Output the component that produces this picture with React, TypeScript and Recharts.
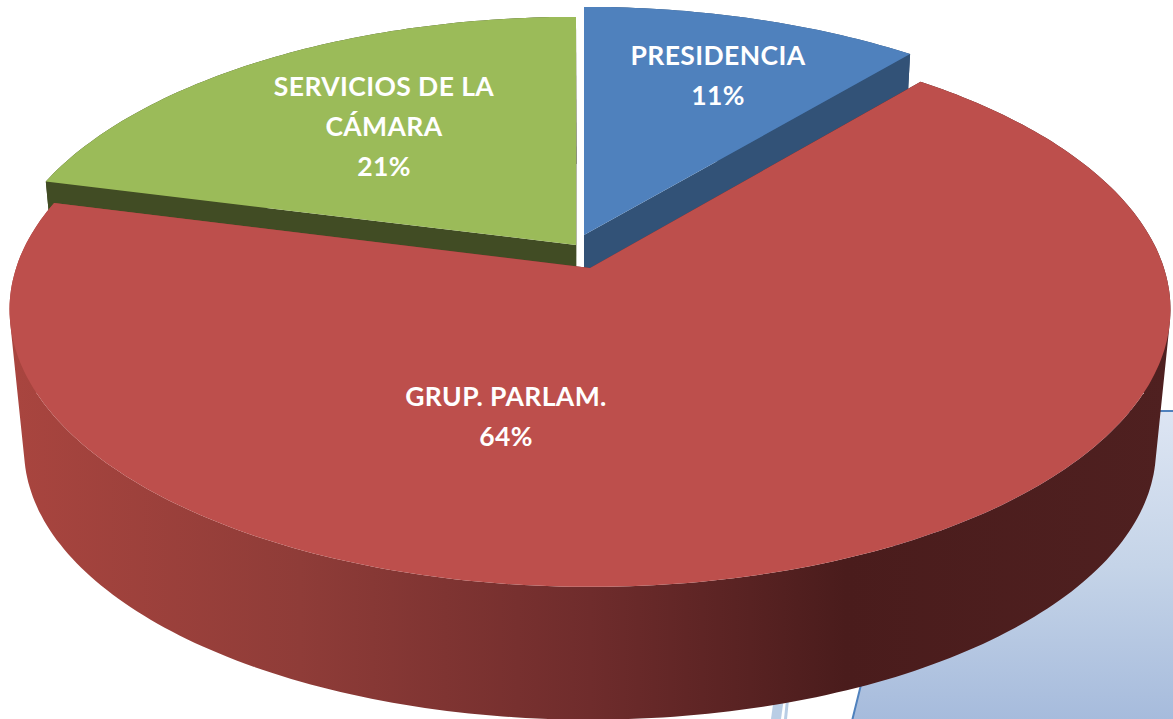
import { Pie, PieChart } from 'recharts';

// draw order runs back to front, so the red slice comes last
const sliceNames = ['SERVICIOS DE LA CÁMARA', 'PRESIDENCIA', 'GRUP. PARLAM.'];
const sliceShares = [21, 11.1, 67.9];
// percentages as printed on the picture (they only add up to 96)
const printedPercents = ['21%', '11%', '64%'];
const labelLines = [['SERVICIOS DE LA', 'CÁMARA'], ['PRESIDENCIA'], ['GRUP. PARLAM.']];

const WIDTH = 1173;
const HEIGHT = 719;
const CX = 589;
const CY = 268;
const RADIUS = 572;

// perspective of the disc, per slice: [tilt, half width, depth]
const discs = [
  [0.166, 570, 266],
  [0.166, 572.4, 266],
  [0.15, 573.9, 271],
];
// the bottom face is the top face scaled towards the vertical vanishing point
const BOTTOM_SCALE = 0.975;
const VANISH_Y = 5900;

const topColors = ['#9bbb59', '#4f81bd', '#bd4f4c'];
const wallColors = ['#414c24', '#325277', 'url(#redWall)'];
const explode = [
  [-13, -23],
  [-5, -33],
  [1, 0],
];
const labelAnchors = [
  [384, 96],
  [718, 65],
  [506, 406],
];

const RAD = Math.PI / 180;

type Pt = [number, number];

function project(angle: number, r: number, idx: number): Pt {
  const [tilt, halfWidth, depth] = discs[idx];
  const u = (r / RADIUS) * Math.cos(angle * RAD);
  const v = (r / RADIUS) * -Math.sin(angle * RAD);
  const d = 1 - tilt * v;
  return [CX + (halfWidth * u) / d + explode[idx][0], CY + (depth * v) / d + explode[idx][1]];
}

function toBottom([x, y]: Pt): Pt {
  return [590 + BOTTOM_SCALE * (x - 590), VANISH_Y + BOTTOM_SCALE * (y - VANISH_Y)];
}

function pathOf(points: Pt[]) {
  return 'M' + points.map((p) => `${p[0].toFixed(1)},${p[1].toFixed(1)}`).join('L') + 'Z';
}

// one quad per rim step, all wound the same way so the overlaps never cancel
function wallPath(rim: Pt[]) {
  let d = '';
  for (let i = 0; i < rim.length - 1; i++) {
    const quad = [rim[i], rim[i + 1], toBottom(rim[i + 1]), toBottom(rim[i])];
    let area = 0;
    quad.forEach((p, j) => {
      const q = quad[(j + 1) % 4];
      area += p[0] * q[1] - q[0] * p[1];
    });
    d += pathOf(area > 0 ? quad : [...quad].reverse());
  }
  return d;
}

function Slice3D(props: any) {
  const { startAngle, endAngle, outerRadius, name } = props;
  const idx = sliceNames.indexOf(name);
  const rim: Pt[] = [];
  const steps = Math.ceil(Math.abs(startAngle - endAngle));
  for (let i = 0; i <= steps; i++) {
    rim.push(project(startAngle + ((endAngle - startAngle) * i) / steps, outerRadius, idx));
  }
  const apex = project(0, 0, idx);
  const first = rim[0];
  const last = rim[rim.length - 1];
  return (
    <g>
      <path d={wallPath(rim)} fill={wallColors[idx]} />
      <path d={pathOf([apex, first, toBottom(first), toBottom(apex)])} fill={wallColors[idx]} />
      <path d={pathOf([apex, last, toBottom(last), toBottom(apex)])} fill={wallColors[idx]} />
      <path d={pathOf([apex, ...rim])} fill={topColors[idx]} />
    </g>
  );
}

function SliceLabel(props: any) {
  const idx = sliceNames.indexOf(props.name);
  const [x, y] = labelAnchors[idx];
  const lines = [...labelLines[idx], printedPercents[idx]];
  return (
    <text
      x={x}
      y={y}
      textAnchor="middle"
      fill="#ffffff"
      fontFamily="Lato"
      fontWeight={700}
      fontSize={26.5}
      letterSpacing={0.4}
    >
      {lines.map((line, i) => (
        <tspan key={line} x={x} y={y + i * 40}>
          {line}
        </tspan>
      ))}
    </text>
  );
}

const chartData = sliceNames.map((name, i) => ({ name, value: sliceShares[i] }));

export default function App() {
  return (
    <div style={{ position: 'absolute', left: 0, top: 0, width: WIDTH, height: HEIGHT, background: '#fff' }}>
      <PieChart width={WIDTH} height={HEIGHT} margin={{ top: 0, right: 0, bottom: 0, left: 0 }}>
        <defs>
          <linearGradient id="redWall" gradientUnits="userSpaceOnUse" x1={10} y1={0} x2={1171} y2={0}>
            <stop offset="0" stopColor="#a9453f" />
            <stop offset="0.25" stopColor="#8f3c38" />
            <stop offset="0.5" stopColor="#6f2c2c" />
            <stop offset="0.72" stopColor="#4a1c1c" />
            <stop offset="1" stopColor="#4f2020" />
          </linearGradient>
          <linearGradient id="panelFill" x1={0} y1={0} x2={0} y2={1}>
            <stop offset="0" stopColor="#dde5f3" />
            <stop offset="0.5" stopColor="#c5d4e8" />
            <stop offset="1" stopColor="#a6bbdc" />
          </linearGradient>
        </defs>
        <polygon points="929,411 1175,411 1175,721 852,721" fill="url(#panelFill)" stroke="#4f81bd" strokeWidth={2} />
        <polygon points="775,690 785,690 781,719 771,719" fill="#b9cde5" />
        <polygon points="787,690 790,690 787,719 784,719" fill="#b9cde5" />
        <Pie
          data={chartData}
          dataKey="value"
          nameKey="name"
          cx={CX}
          cy={CY}
          innerRadius={0}
          outerRadius={RADIUS}
          startAngle={165.6}
          endAngle={-194.4}
          stroke="none"
          shape={Slice3D}
          label={SliceLabel}
          labelLine={false}
          isAnimationActive={false}
        />
      </PieChart>
    </div>
  );
}
